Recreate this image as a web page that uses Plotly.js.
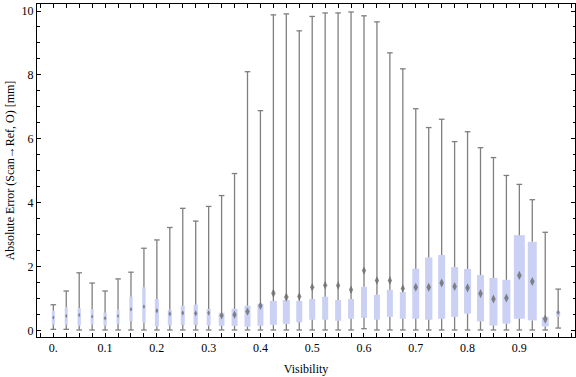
<!DOCTYPE html>
<html>
<head>
<meta charset="utf-8">
<script src="https://cdn.plot.ly/plotly-3.0.1.min.js"></script>
<style>html,body{margin:0;padding:0;background:#fff;}#chart{width:576px;height:377px;}</style>
</head>
<body>
<div id="chart"></div>
<script>
// ---- data ----
var visibility = [0, 0.025, 0.05, 0.075, 0.1, 0.125, 0.15, 0.175, 0.2, 0.225,
  0.25, 0.275, 0.3, 0.325, 0.35, 0.375, 0.4, 0.425, 0.45, 0.475,
  0.5, 0.525, 0.55, 0.575, 0.6, 0.625, 0.65, 0.675, 0.7, 0.725,
  0.75, 0.775, 0.8, 0.825, 0.85, 0.875, 0.9, 0.925, 0.95, 0.975];
var minErr = [0.03, 0.03, 0.01, 0.01, 0.01, 0.01, 0.01, 0.01, 0.01, 0.01,
  0.01, 0.01, 0.01, 0.01, 0.01, 0.01, 0.01, 0.01, 0.01, 0.01,
  0.01, 0.01, 0.01, 0.01, 0.05, 0.01, 0.01, 0.01, 0.01, 0.01,
  0.01, 0.01, 0.01, 0.01, 0.01, 0.01, 0.01, 0.01, 0.01, 0.07];
var q1Err = [0.17, 0.17, 0.15, 0.18, 0.15, 0.21, 0.29, 0.24, 0.12, 0.15,
  0.17, 0.17, 0.15, 0.14, 0.14, 0.11, 0.14, 0.17, 0.20, 0.25,
  0.33, 0.33, 0.30, 0.36, 0.39, 0.33, 0.42, 0.36, 0.36, 0.33,
  0.36, 0.42, 0.52, 0.28, 0.15, 0.21, 0.36, 0.31, 0.12, 0.43];
var medianErr = [0.40, 0.45, 0.48, 0.43, 0.38, 0.45, 0.66, 0.74, 0.61, 0.52,
  0.54, 0.53, 0.54, 0.46, 0.49, 0.59, 0.77, 1.16, 1.04, 1.06,
  1.35, 1.41, 1.40, 1.27, 1.87, 1.56, 1.56, 1.31, 1.35, 1.35,
  1.48, 1.37, 1.33, 1.15, 0.98, 1.01, 1.72, 1.53, 0.35, 0.56];
var q3Err = [0.61, 0.72, 0.69, 0.67, 0.55, 0.64, 1.05, 1.35, 0.98, 0.64,
  0.77, 0.80, 0.67, 0.55, 0.67, 0.77, 0.83, 0.92, 0.95, 0.92,
  0.98, 1.05, 0.95, 0.98, 1.36, 1.11, 1.27, 1.20, 1.93, 2.28,
  2.36, 1.98, 1.92, 1.73, 1.64, 1.58, 2.98, 2.77, 0.42, 0.61];
var maxErr = [0.80, 1.23, 1.80, 1.48, 1.23, 1.61, 1.82, 2.57, 2.83, 3.22,
  3.82, 3.42, 3.88, 4.22, 4.91, 8.10, 6.88, 9.88, 9.91, 9.38,
  9.83, 9.94, 9.94, 9.97, 9.85, 9.66, 8.69, 8.19, 6.94, 6.35,
  6.61, 5.91, 6.22, 5.72, 5.41, 4.85, 4.57, 4.09, 3.07, 1.29];
var xTickVals = [0, 0.1, 0.2, 0.3, 0.4, 0.5, 0.6, 0.7, 0.8, 0.9];
var xTickText = ['0.', '0.1', '0.2', '0.3', '0.4', '0.5', '0.6', '0.7', '0.8', '0.9'];

// ---- styling ----
var boxWidthPx = [3, 3, 3.3, 3, 3.3, 3, 3.3, 3.3, 4, 4,
  4, 4.3, 4, 5.7, 6, 6, 6, 7, 7, 6,
  6, 6, 6, 6, 6, 6, 6, 6, 7, 7.3,
  7, 7, 7, 7, 8, 8, 11, 9, 7, 4];
var pxPerUnit = 518;
var boxColor = '#cad1f5';
var whiskerColor = '#7f7f7f';
var medianColor = '#6a6a6a';
var fontFam = '"Liberation Serif", "Times New Roman", serif';

// whisker segments (outside the box), built from the data arrays
var wx = [], wy = [];
var cx = [], cy = [];
for (var i = 0; i < visibility.length; i++) {
  wx.push(visibility[i], visibility[i], null, visibility[i], visibility[i], null);
  wy.push(minErr[i], q1Err[i], null, q3Err[i], maxErr[i], null);
  cx.push(visibility[i], visibility[i]);
  cy.push(minErr[i], maxErr[i]);
}
var boxHeight = q3Err.map(function (v, i) { return v - q1Err[i]; });
var barWidths = boxWidthPx.map(function (p) { return p / pxPerUnit; });
var medSizes = boxWidthPx.map(function (p) { return Math.max(3, Math.min(6.5, p)); });

var traces = [
  {
    type: 'bar', x: visibility, y: boxHeight, base: q1Err, width: barWidths,
    marker: {color: boxColor, line: {width: 0}}, hoverinfo: 'skip', showlegend: false
  },
  {
    type: 'scatter', mode: 'lines', x: wx, y: wy, connectgaps: false,
    line: {color: whiskerColor, width: 1.3}, hoverinfo: 'skip', showlegend: false
  },
  {
    type: 'scatter', mode: 'markers', x: cx, y: cy,
    marker: {symbol: 'line-ew', size: 4, line: {color: whiskerColor, width: 1.3}},
    hoverinfo: 'skip', showlegend: false
  },
  {
    type: 'scatter', mode: 'markers', x: visibility, y: medianErr,
    marker: {symbol: 'diamond-tall', size: medSizes, color: medianColor, opacity: 0.8, line: {width: 0}},
    hoverinfo: 'skip', showlegend: false
  }
];

var layout = {
  width: 576, height: 377,
  margin: {l: 37, r: 1, t: 4, b: 40},
  paper_bgcolor: '#ffffff', plot_bgcolor: '#ffffff',
  barmode: 'overlay',
  showlegend: false,
  font: {family: fontFam, size: 12, color: '#000'},
  xaxis: {
    range: [-0.0315, 1.0075],
    tickmode: 'array', tickvals: xTickVals, ticktext: xTickText,
    ticks: 'inside', ticklen: 4, tickwidth: 1, tickcolor: '#000',
    minor: {dtick: 0.025, tick0: 0, ticks: 'inside', ticklen: 4, tickwidth: 1, tickcolor: '#000', showgrid: false},
    showline: true, linecolor: '#000', linewidth: 1, mirror: 'ticks',
    showgrid: false, zeroline: false,
    tickfont: {family: fontFam, size: 12, color: '#000'},
    title: {text: 'Visibility', font: {family: fontFam, size: 12, color: '#000'}, standoff: 10}
  },
  yaxis: {
    range: [-0.21, 10.22],
    tickmode: 'linear', tick0: 0, dtick: 2,
    ticks: 'inside', ticklen: 4, tickwidth: 1, tickcolor: '#000',
    minor: {dtick: 0.5, tick0: 0, ticks: 'inside', ticklen: 2.5, tickwidth: 1, tickcolor: '#000', showgrid: false},
    showline: true, linecolor: '#000', linewidth: 1, mirror: 'ticks',
    showgrid: false, zeroline: false,
    tickfont: {family: fontFam, size: 12, color: '#000'},
    title: {text: 'Absolute Error (Scan\u2192Ref, O) [mm]', font: {family: fontFam, size: 12, color: '#000'}, standoff: 4}
  }
};

Plotly.newPlot('chart', traces, layout, {displayModeBar: false, staticPlot: true});
</script>
</body>
</html>
